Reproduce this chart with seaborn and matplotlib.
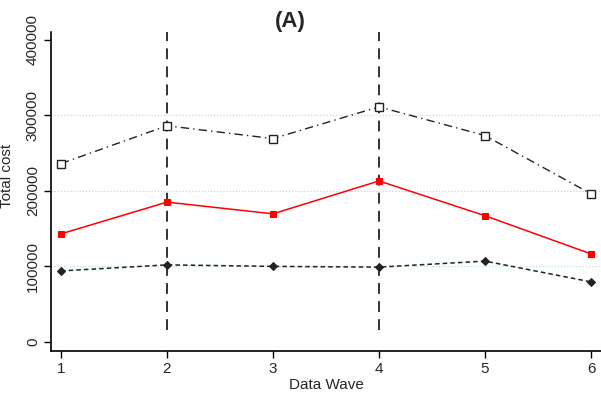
import matplotlib
matplotlib.use("Agg")
import matplotlib.pyplot as plt
import seaborn as sns
import pandas as pd

waves = [1, 2, 3, 4, 5, 6]
upper = [236000, 286000, 269000, 311000, 273000, 196000]
mean_cost = [143000, 185000, 169500, 213000, 167000, 116500]
lower = [94000, 102000, 100000, 99000, 107000, 79500]
vlines_at = [2, 4]
yticks = [0, 100000, 200000, 300000, 400000]

sns.set_style("white")
plt.rcParams['font.family'] = ['Liberation Sans', 'DejaVu Sans']

fig = plt.figure(figsize=(6.01, 3.93), dpi=100)
ax = fig.add_axes([0.0849, 0.1069, 0.9151, 0.8117])

for yv in [100000, 200000, 300000]:
    ax.axhline(yv, color='#b5e3dc', lw=0.9, ls=(0, (1, 1.5)), zorder=0)

for xv in vlines_at:
    ax.plot([xv, xv], [16000, 412000], color='#222222', lw=1.3, ls=(0, (6, 4)), zorder=1)

df = pd.DataFrame({'wave': waves, 'upper': upper, 'mean': mean_cost, 'lower': lower})

sns.lineplot(data=df, x='wave', y='upper', ax=ax, color='#222222', lw=1.0,
             marker='s', markersize=6, markerfacecolor='white', markeredgecolor='#222222',
             markeredgewidth=1.0)
ax.lines[-1].set_linestyle((0, (6, 3, 1, 3)))
sns.lineplot(data=df, x='wave', y='mean', ax=ax, color='#ff0000', lw=1.1,
             marker='s', markersize=5, markeredgecolor='#ff0000')
sns.lineplot(data=df, x='wave', y='lower', ax=ax, color='#222222', lw=1.1,
             marker='D', markersize=4.5, markeredgecolor='#222222')
ax.lines[-1].set_linestyle((0, (3, 2)))

ax.set_xlim(0.906, 6.094)
ax.set_ylim(-11900, 410000)
ax.set_xticks(waves)
ax.set_xticklabels([str(w) for w in waves], fontsize=11)
ax.set_yticks(yticks)
ax.set_yticklabels([str(t) for t in yticks], fontsize=11, rotation=90, va='center')
ax.tick_params(axis='both', which='both', length=5, width=1, color='black', direction='out',
               left=True, bottom=True, pad=3)
for s in ['top', 'right']:
    ax.spines[s].set_visible(False)
for s in ['left', 'bottom']:
    ax.spines[s].set_color('black')
    ax.spines[s].set_linewidth(1.2)

ax.set_xlabel('Data Wave', fontsize=11, labelpad=0)
ax.xaxis.set_label_coords(0.5, -0.085)
ax.set_ylabel('Total cost', fontsize=11, labelpad=0)
ax.yaxis.set_label_coords(-0.068, 0.55)
fig.text(0.483, 0.945, '(A)', fontsize=16, fontweight='bold', ha='center', va='center')

fig.savefig('out.png', dpi=100)
